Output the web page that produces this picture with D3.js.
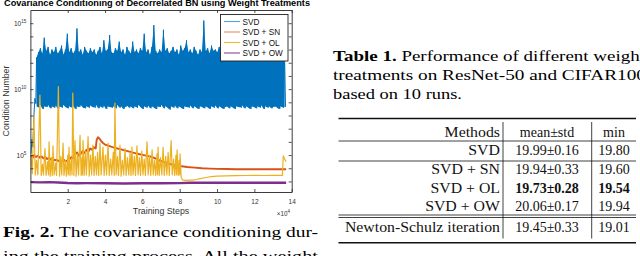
<!DOCTYPE html>
<html>
<head>
<meta charset="utf-8">
<script src="https://cdn.jsdelivr.net/npm/d3@7"></script>
<style>
body { margin: 0; background: #fff; }
svg { display: block; }
</style>
</head>
<body>
<script>
// ---- chart data (steps in units of 1e4, values as log10 of condition number) ----
var seriesNames = ["SVD", "SVD + SN", "SVD + OL", "SVD + OW"];
var seriesColors = ["#0072BD", "#D95319", "#EDB120", "#7E2F8E"];
var xTicks = [2, 4, 6, 8, 10, 12, 14];
var yLabelExps = [5, 10, 15];

// SVD: warm-up part, then logged every svdEvery steps as (peak, trough) pairs
var svdStartSteps = [0.03, 0.08, 0.13, 0.18, 0.24, 0.29];
var svdStartLog = [5.1, 6.2, 5.6, 7.8, 9.3, 8.9];
var svdFirst = 0.33, svdEvery = 0.103;
var svdPeakLog = [
  12.4, 12.8, 13.1, 12.7, 13.9, 12.9, 13.2, 12.6, 13.0, 12.8,
  13.2, 12.7, 12.9, 13.3, 12.6, 13.0, 14.2, 12.8, 13.1, 12.7,
  12.9, 14.6, 12.8, 13.0, 12.6, 13.2, 12.9, 12.7, 13.1, 12.8,
  13.0, 12.6, 12.9, 13.2, 12.7, 13.7, 12.9, 13.0, 14.1, 12.8,
  12.7, 13.1, 12.9, 13.6, 12.8, 13.0, 12.6, 13.2, 12.9, 12.7,
  13.6, 12.8, 13.0, 12.7, 13.1, 12.9, 14.2, 12.8, 13.0, 12.6,
  13.2, 14.85, 12.9, 12.7, 13.0, 12.8, 14.5, 12.9, 13.1, 12.7,
  12.9, 13.2, 12.8, 13.0, 12.6, 13.3, 12.9, 13.1, 13.7, 12.8,
  13.0, 12.7, 13.2, 12.9, 12.6, 13.0, 12.8, 15.2, 12.9, 13.1,
  12.7, 13.3, 12.9, 13.0, 12.8, 13.2, 12.7, 13.0, 12.9, 13.1,
  12.8, 13.0, 12.7, 13.2, 12.9, 12.8, 13.1, 12.7, 13.0, 12.9,
  13.2, 12.8, 13.0, 12.7, 13.1, 12.9, 12.8, 13.3, 12.9, 13.0,
  12.7, 13.1, 12.9, 12.8, 13.0, 12.7, 13.2, 12.9, 12.8, 12.6
];
var svdTroughLog = [
  8.7, 8.6, 8.8, 8.5, 8.7, 8.65, 8.8, 8.55, 8.7, 8.6,
  8.75, 8.5, 8.7, 8.6, 8.8, 8.65, 8.55, 8.7, 8.6, 8.75,
  8.5, 8.7, 8.65, 8.8, 8.6, 8.55, 8.7, 8.6, 8.75, 8.65,
  8.6, 8.8, 8.55, 8.7, 8.6, 8.75, 8.5, 8.7, 8.65, 8.6,
  8.7, 8.55, 8.8, 8.6, 8.7, 8.5, 8.65, 8.75, 8.6, 8.7,
  8.55, 8.7, 8.6, 8.8, 8.65, 8.5, 8.7, 8.6, 8.75, 8.55,
  8.7, 8.6, 8.5, 8.7, 8.65, 8.8, 8.55, 8.7, 8.6, 8.45,
  8.7, 8.6, 8.75, 8.55, 8.7, 8.6, 8.5, 8.7, 8.65, 8.6,
  8.75, 8.55, 8.7, 8.6, 8.5, 8.7, 8.65, 8.55, 8.7, 8.6,
  8.5, 8.7, 8.6, 8.75, 8.55, 8.7, 8.6, 8.5, 8.65, 8.7,
  8.55, 8.7, 8.6, 8.5, 8.7, 8.65, 8.6, 8.75, 8.55, 8.7,
  8.6, 8.5, 8.7, 8.65, 8.55, 8.7, 8.6, 8.75, 8.5, 8.7,
  8.6, 8.7, 8.55, 8.65, 8.7, 8.6, 8.5, 8.7, 8.6, 8.65
];

// SVD + SN
var snSteps = [0.03, 0.12, 0.2, 0.3, 0.4, 0.5, 0.6, 0.7, 0.8, 0.9, 1.0, 1.1, 1.2, 1.3, 1.4, 1.5,
  1.6, 1.7, 1.8, 1.9, 2.0, 2.1, 2.2, 2.3, 2.4, 2.5, 2.6, 2.7, 2.8, 2.9, 3.0, 3.1, 3.2, 3.3, 3.4,
  3.5, 3.55, 3.62, 3.7, 3.8, 3.9, 4.0, 4.2, 4.4, 4.6, 4.8, 5.0, 5.2, 5.4, 5.6, 5.8, 6.0, 6.2,
  6.4, 6.6, 6.8, 7.0, 7.2, 7.4, 7.6, 7.8, 8.0, 8.4, 8.8, 9.2, 9.6, 10.0, 10.5, 11.0, 11.5, 12.0,
  12.5, 13.0, 13.5, 13.7];
var snLog = [4.95, 4.8, 5.0, 4.85, 4.95, 4.8, 4.9, 4.75, 4.85, 4.7, 4.8, 4.65, 4.75, 4.6, 4.65, 4.55,
  4.6, 4.55, 4.62, 4.52, 4.6, 4.7, 4.85, 4.75, 5.05, 5.2, 4.95, 5.1, 5.3, 5.15, 5.4, 5.25, 5.5, 5.4, 5.6,
  5.5, 6.15, 6.35, 6.25, 6.05, 5.9, 5.8, 5.7, 5.6, 5.52, 5.45, 5.38, 5.3, 5.22, 5.15, 5.08, 5.02, 4.96,
  4.9, 4.8, 4.67, 4.55, 4.45, 4.36, 4.28, 4.22, 4.17, 4.1, 4.05, 4.0, 3.97, 3.95, 3.94, 3.93, 3.93, 3.92,
  3.93, 3.93, 3.92, 3.93];

// SVD + OL
var olSteps = [0.03, 0.1, 0.19, 0.26, 0.33, 0.4, 0.51, 0.58, 0.65, 0.7, 0.78, 0.84, 0.92, 0.97, 1.0,
  1.06, 1.13, 1.17, 1.21, 1.27, 1.35, 1.4, 1.5, 1.56, 1.63, 1.68, 1.75, 1.8, 1.87, 1.93, 2.0, 2.03,
  2.07, 2.12, 2.19, 2.23, 2.27, 2.33, 2.39, 2.45, 2.52, 2.58, 2.66, 2.72, 2.77, 2.79, 2.82, 2.88,
  2.95, 3.0, 3.09, 3.15, 3.22, 3.28, 3.35, 3.41, 3.48, 3.54, 3.6, 3.66, 3.73, 3.79, 3.89, 3.95,
  4.02, 4.08, 4.16, 4.22, 4.3, 4.36, 4.44, 4.49, 4.53, 4.59, 4.66, 4.72, 4.8, 4.86, 4.93, 5.0,
  5.07, 5.13, 5.2, 5.27, 5.34, 5.39, 5.44, 5.5, 5.57, 5.63, 5.71, 5.77, 5.84, 5.9, 5.97, 6.03,
  6.1, 6.16, 6.25, 6.31, 6.38, 6.45, 6.52, 6.58, 6.65, 6.71, 6.78, 6.81, 6.84, 6.9, 6.97, 7.04,
  7.11, 7.17, 7.25, 7.31, 7.38, 7.44, 7.54, 7.6, 7.67, 7.73, 7.8, 7.83, 7.86, 7.92, 7.97, 8.0,
  8.02, 8.08, 8.15, 8.3, 8.5, 8.7, 8.9, 9.1, 9.4, 9.7, 10.0, 10.5, 11.0, 11.5, 12.0, 12.5, 13.0,
  13.3, 13.5, 13.55, 13.62, 13.7];
var olLog = [4.9, 3.6, 8.0, 3.5, 4.6, 3.5, 9.55, 3.45, 4.3, 3.5, 5.5, 3.45, 4.5, 3.5, 6.0,
  3.4, 4.8, 3.45, 5.7, 3.5, 4.4, 3.45, 10.2, 3.4, 4.9, 3.5, 5.9, 3.45, 4.6, 3.4, 5.0, 3.5,
  5.6, 3.45, 4.7, 3.5, 9.7, 3.45, 6.1, 3.4, 5.1, 3.5, 6.5, 3.45, 4.8, 3.5, 6.1, 3.45,
  5.3, 3.5, 6.4, 3.4, 5.0, 3.5, 5.75, 3.45, 4.9, 3.5, 5.2, 3.45, 5.9, 3.5, 5.6, 3.45,
  5.0, 3.5, 5.9, 3.45, 4.7, 3.5, 5.2, 3.45, 8.94, 3.5, 4.9, 3.45, 5.75, 3.4, 4.6, 3.5,
  5.5, 3.45, 4.8, 3.5, 5.2, 3.45, 5.6, 3.5, 4.9, 3.45, 5.7, 3.5, 4.8, 3.45, 5.3, 3.5,
  4.7, 3.45, 6.0, 3.5, 4.9, 3.45, 5.4, 3.5, 4.6, 3.45, 5.1, 3.5, 5.6, 3.45, 4.8, 3.5,
  5.6, 3.45, 4.9, 3.5, 5.2, 3.45, 6.1, 3.5, 4.7, 3.45, 5.0, 3.5, 5.4, 3.45, 4.6, 3.5,
  5.1, 3.3, 3.12, 3.08, 3.1, 3.1, 3.15, 3.22, 3.3, 3.36, 3.4, 3.43, 3.44, 3.45, 3.46, 3.45, 3.46,
  3.47, 3.46, 4.95, 4.7, 4.5];

// SVD + OW
var owSteps = [0.03, 0.5, 1.0, 1.5, 2.0, 2.5, 3.0, 4.0, 5.0, 6.0, 7.0, 8.0, 8.5, 9.0, 10.0, 11.0, 12.0, 13.0, 13.7];
var owLog = [2.95, 2.93, 2.95, 2.92, 2.88, 2.86, 2.87, 2.86, 2.85, 2.86, 2.86, 2.87, 2.9, 2.9, 2.9, 2.9, 2.9, 2.9, 2.9];

// ---- table data ----
var methods = ["SVD", "SVD + SN", "SVD + OL", "SVD + OW", "Newton-Schulz iteration"];
var means = ["19.99", "19.94", "19.73", "20.06", "19.45"];
var stds = ["0.16", "0.33", "0.28", "0.17", "0.33"];
var mins = ["19.80", "19.60", "19.54", "19.94", "19.01"];
var bestRow = 2;

var w = 640, h = 256;
var svg = d3.select("body").append("svg").attr("width", w).attr("height", h);

var pLeft = 30.4, pRight = 291.7, pTop = 10, pBottom = 192;
var x = d3.scaleLinear().domain([0, 14]).range([pLeft, pRight]);
var y = d3.scaleLog().domain([Math.pow(10, 2.2), 1e16]).range([pBottom, pTop]);

svg.append("clipPath").attr("id", "plotclip")
  .append("rect").attr("x", pLeft).attr("y", pTop).attr("width", pRight - pLeft).attr("height", pBottom - pTop);

var line = d3.line()
  .x(function (d) { return x(d[0]); })
  .y(function (d) { return y(Math.pow(10, d[1])); });

// build point lists
var svdPts = svdStartSteps.map(function (s, i) { return [s, svdStartLog[i]]; });
var svdBand = [];
svdPeakLog.forEach(function (v, i) {
  var s = svdFirst + i * svdEvery;
  svdPts.push([s, v]);
  svdPts.push([s + svdEvery / 2, svdTroughLog[i]]);
  svdBand.push({ s: s, hi: v, lo: svdTroughLog[i] });
});
var snPts = snSteps.map(function (s, i) { return [s, snLog[i]]; });
var olPts = olSteps.map(function (s, i) { return [s, olLog[i]]; });
var owPts = owSteps.map(function (s, i) { return [s, owLog[i]]; });

var plot = svg.append("g").attr("clip-path", "url(#plotclip)");

// the SVD samples are so dense that they read as a solid band
plot.append("path")
  .attr("d", d3.area()
    .x(function (d) { return x(d.s); })
    .y0(function (d) { return y(Math.pow(10, d.lo)); })
    .y1(function (d) { return y(Math.pow(10, d.hi)); })(svdBand))
  .attr("fill", seriesColors[0]);

var allSeries = [svdPts, snPts, olPts, owPts];
var widths = [1.0, 1.9, 1.2, 2.4];
allSeries.forEach(function (pts, i) {
  plot.append("path")
    .attr("d", line(pts))
    .attr("fill", "none")
    .attr("stroke", seriesColors[i])
    .attr("stroke-width", widths[i])
    .attr("stroke-linejoin", "round");
});

// axes
var axisColor = "#262626";
var yDecades = d3.range(3, 16).map(function (e) { return Math.pow(10, e); });

var xAxis = svg.append("g").attr("transform", "translate(0," + pBottom + ")")
  .call(d3.axisBottom(x).tickValues(xTicks).tickSizeInner(-3).tickSizeOuter(0).tickPadding(7));
var xTop = svg.append("g").attr("transform", "translate(0," + pTop + ")")
  .call(d3.axisTop(x).tickValues(xTicks).tickSizeInner(-3).tickSizeOuter(0).tickFormat(""));
var yAxis = svg.append("g").attr("transform", "translate(" + pLeft + ",0)")
  .call(d3.axisLeft(y).tickValues(yDecades).tickSizeInner(-3).tickSizeOuter(0).tickFormat(""));
var yRight = svg.append("g").attr("transform", "translate(" + pRight + ",0)")
  .call(d3.axisRight(y).tickValues(yDecades).tickSizeInner(-3).tickSizeOuter(0).tickFormat(""));

[xAxis, xTop, yAxis, yRight].forEach(function (g) {
  g.select(".domain").attr("stroke", axisColor).attr("stroke-width", 0.9);
  g.selectAll(".tick line").attr("stroke", axisColor).attr("stroke-width", 0.8);
});
xAxis.selectAll(".tick text")
  .attr("font-family", "Liberation Sans, Arial, sans-serif")
  .attr("font-size", 6.5).attr("fill", "#333");

yLabelExps.forEach(function (e) {
  var t = svg.append("text")
    .attr("x", pLeft - 4).attr("y", y(Math.pow(10, e)) + 2.5)
    .attr("text-anchor", "end")
    .attr("font-family", "Liberation Sans, Arial, sans-serif")
    .attr("font-size", 6.6).attr("fill", "#333");
  t.append("tspan").text("10");
  t.append("tspan").attr("dy", -3).attr("font-size", 4.6).text(e);
});

// titles
svg.append("text")
  .attr("x", 4).attr("y", 5.5)
  .attr("font-family", "Liberation Sans, Arial, sans-serif")
  .attr("font-weight", "bold").attr("font-size", 8.6)
  .attr("textLength", 306).attr("lengthAdjust", "spacingAndGlyphs")
  .text("Covariance Conditioning of Decorrelated BN using Weight Treatments");

svg.append("text")
  .attr("transform", "translate(8.5," + ((pTop + pBottom) / 2) + ") rotate(-90)")
  .attr("text-anchor", "middle")
  .attr("font-family", "Liberation Sans, Arial, sans-serif")
  .attr("font-size", 8.8).attr("fill", "#333")
  .text("Condition Number");

svg.append("text")
  .attr("x", (pLeft + pRight) / 2).attr("y", 214)
  .attr("text-anchor", "middle")
  .attr("font-family", "Liberation Sans, Arial, sans-serif")
  .attr("font-size", 8.8).attr("fill", "#333")
  .text("Training Steps");

var mult = svg.append("text")
  .attr("x", 290).attr("y", 215.5)
  .attr("text-anchor", "end")
  .attr("font-family", "Liberation Sans, Arial, sans-serif")
  .attr("font-size", 6.3).attr("fill", "#333");
mult.append("tspan").text("\u00d710");
mult.append("tspan").attr("dy", -3).attr("font-size", 4.5).text("4");

// legend
var lg = svg.append("g");
lg.append("rect")
  .attr("x", 220.5).attr("y", 14.5).attr("width", 67.5).attr("height", 46.5)
  .attr("fill", "#fff").attr("stroke", "#222").attr("stroke-width", 0.9);
var legendY = [21.5, 32, 42.5, 53];
seriesNames.forEach(function (n, i) {
  lg.append("line")
    .attr("x1", 224).attr("x2", 240)
    .attr("y1", legendY[i]).attr("y2", legendY[i])
    .attr("stroke", seriesColors[i]).attr("stroke-width", 1.1)
    .attr("stroke-opacity", i === 0 || i === 1 ? 0.65 : 0.9);
  lg.append("text")
    .attr("x", 242.5).attr("y", legendY[i] + 3)
    .attr("font-family", "Liberation Sans, Arial, sans-serif")
    .attr("font-size", 8.2).attr("fill", "#111")
    .text(n);
});

// ---- captions ----
var serif = "Liberation Serif, Times New Roman, serif";
var cap1 = svg.append("text")
  .attr("x", 3).attr("y", 237)
  .attr("font-family", serif).attr("font-size", 15.5)
  .attr("textLength", 315).attr("lengthAdjust", "spacingAndGlyphs");
cap1.append("tspan").attr("font-weight", "bold").text("Fig. 2.");
cap1.append("tspan").text(" The covariance conditioning dur-");
svg.append("text")
  .attr("x", 3).attr("y", 261)
  .attr("font-family", serif).attr("font-size", 15.5)
  .attr("textLength", 315).attr("lengthAdjust", "spacingAndGlyphs")
  .text("ing the training process. All the weight");

var tcap = svg.append("text")
  .attr("x", 333).attr("y", 61)
  .attr("font-family", serif).attr("font-size", 15.5)
  .attr("textLength", 312).attr("lengthAdjust", "spacingAndGlyphs");
tcap.append("tspan").attr("font-weight", "bold").text("Table 1.");
tcap.append("tspan").text(" Performance of different weight");
svg.append("text")
  .attr("x", 333).attr("y", 80)
  .attr("font-family", serif).attr("font-size", 15.5)
  .attr("textLength", 313).attr("lengthAdjust", "spacingAndGlyphs")
  .text("treatments on ResNet-50 and CIFAR100");
svg.append("text")
  .attr("x", 333).attr("y", 99)
  .attr("font-family", serif).attr("font-size", 15.5)
  .attr("textLength", 129).attr("lengthAdjust", "spacingAndGlyphs")
  .text("based on 10 runs.");

// ---- table ----
var tb = svg.append("g").attr("font-family", serif).attr("font-size", 14).attr("fill", "#111");
var tl = 338.5, tr = 636, vx1 = 503, vx2 = 591.7;
var meanX = 547, minX = 614;
function hrule(yy, sw) {
  tb.append("line").attr("x1", tl).attr("x2", tr).attr("y1", yy).attr("y2", yy)
    .attr("stroke", "#111").attr("stroke-width", sw);
}
hrule(118.5, 1.4);
hrule(141, 0.8);
hrule(161, 0.8);
hrule(215, 0.8);
hrule(217.5, 0.8);
hrule(242.7, 1.4);
[vx1, vx2].forEach(function (vx) {
  tb.append("line").attr("x1", vx).attr("x2", vx).attr("y1", 122).attr("y2", 238.5)
    .attr("stroke", "#111").attr("stroke-width", 0.8);
});

var headY = 137;
function cell(txt, xx, yy, anchor, bold) {
  var t = tb.append("text").attr("x", xx).attr("y", yy).attr("text-anchor", anchor).text(txt);
  if (bold) t.attr("font-weight", "bold");
  return t;
}
var hm = cell("Methods", 500, headY, "end");
hm.attr("textLength", hm.node().getComputedTextLength() * 1.13).attr("lengthAdjust", "spacingAndGlyphs");
cell("mean\u00b1std", meanX, headY, "middle");
cell("min", minX, headY, "middle");

var rowY = [155, 174, 193, 211, 232];
methods.forEach(function (m, i) {
  var t = cell(m, 500, rowY[i], "end");
  t.attr("textLength", t.node().getComputedTextLength() * 1.13).attr("lengthAdjust", "spacingAndGlyphs");
  cell(means[i] + "\u00b1" + stds[i], meanX, rowY[i], "middle", i === bestRow);
  cell(mins[i], minX, rowY[i], "middle", i === bestRow);
});
</script>
</body>
</html>
